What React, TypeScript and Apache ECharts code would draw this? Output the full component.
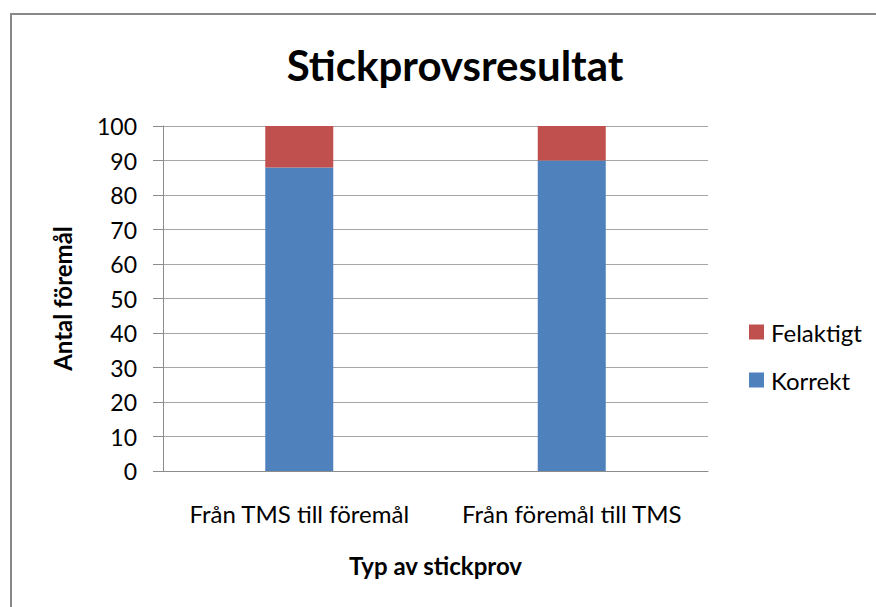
import React, { useEffect, useRef } from "react";
import * as echarts from "echarts";

const categories = ["Från TMS till föremål", "Från föremål till TMS"];
const korrekt = [88, 90];
const felaktigt = [12, 10];
const seriesNames = ["Felaktigt", "Korrekt"];
const titleText = "Stickprovsresultat";
const yAxisName = "Antal föremål";
const xAxisName = "Typ av stickprov";

const FONT = "Lato, 'Open Sans', sans-serif";

export default function App() {
  const ref = useRef<HTMLDivElement>(null);
  useEffect(() => {
    if (!ref.current) return;
    const chart = echarts.init(ref.current, null, { renderer: "svg" });
    chart.setOption({
      animation: false,
      backgroundColor: "#ffffff",
      textStyle: { fontFamily: FONT, color: "#000" },
      title: {
        text: titleText,
        left: 450,
        textAlign: "center",
        top: 39,
        textStyle: { fontFamily: FONT, fontSize: 42, fontWeight: "bold", color: "#000" },
      },
      graphic: [
        {
          type: "rect",
          shape: { x: 11, y: 14, width: 1000, height: 800 },
          style: { fill: "none", stroke: "#898989", lineWidth: 2 },
          silent: true,
        },
      ],
      legend: {
        data: seriesNames,
        orient: "vertical",
        left: 749,
        top: 320,
        padding: 0,
        itemWidth: 15,
        itemHeight: 15,
        itemGap: 24,
        icon: "rect",
        textStyle: { fontFamily: FONT, fontSize: 24, lineHeight: 24, color: "#000", padding: [0, 0, 0, 2] },
      },
      grid: { left: 163, right: 168, top: 126, bottom: 136, containLabel: false },
      xAxis: {
        type: "category",
        data: categories,
        name: xAxisName,
        nameLocation: "middle",
        nameGap: 82,
        nameTextStyle: { fontFamily: FONT, fontSize: 24, fontWeight: "bold", color: "#000" },
        axisLine: { show: true, lineStyle: { color: "#8c8c8c", width: 1 } },
        axisTick: { show: false },
        axisLabel: { interval: 0, hideOverlap: false, margin: 30, fontFamily: FONT, fontSize: 24, color: "#000" },
        splitLine: { show: false },
      },
      yAxis: {
        type: "value",
        min: 0,
        max: 100,
        interval: 10,
        name: yAxisName,
        nameLocation: "middle",
        nameGap: 89,
        nameRotate: 90,
        nameTextStyle: { fontFamily: FONT, fontSize: 24, fontWeight: "bold", color: "#000" },
        axisLine: { show: true, lineStyle: { color: "#8c8c8c", width: 1 } },
        axisTick: { show: true, inside: false, length: 10, lineStyle: { color: "#8c8c8c" } },
        axisLabel: { margin: 26, fontFamily: FONT, fontSize: 23, color: "#000" },
        splitLine: { show: true, lineStyle: { color: "#a6a6a6", width: 1 } },
      },
      series: [
        {
          name: "Korrekt",
          type: "bar",
          stack: "total",
          data: korrekt,
          barWidth: 68,
          itemStyle: { color: "#4F81BD" },
        },
        {
          name: "Felaktigt",
          type: "bar",
          stack: "total",
          data: felaktigt,
          barWidth: 68,
          itemStyle: { color: "#C0504D" },
        },
      ],
    });
    return () => chart.dispose();
  }, []);
  return (
    <div
      ref={ref}
      style={{ position: "fixed", left: 0, top: 0, width: 876, height: 607 }}
    />
  );
}
